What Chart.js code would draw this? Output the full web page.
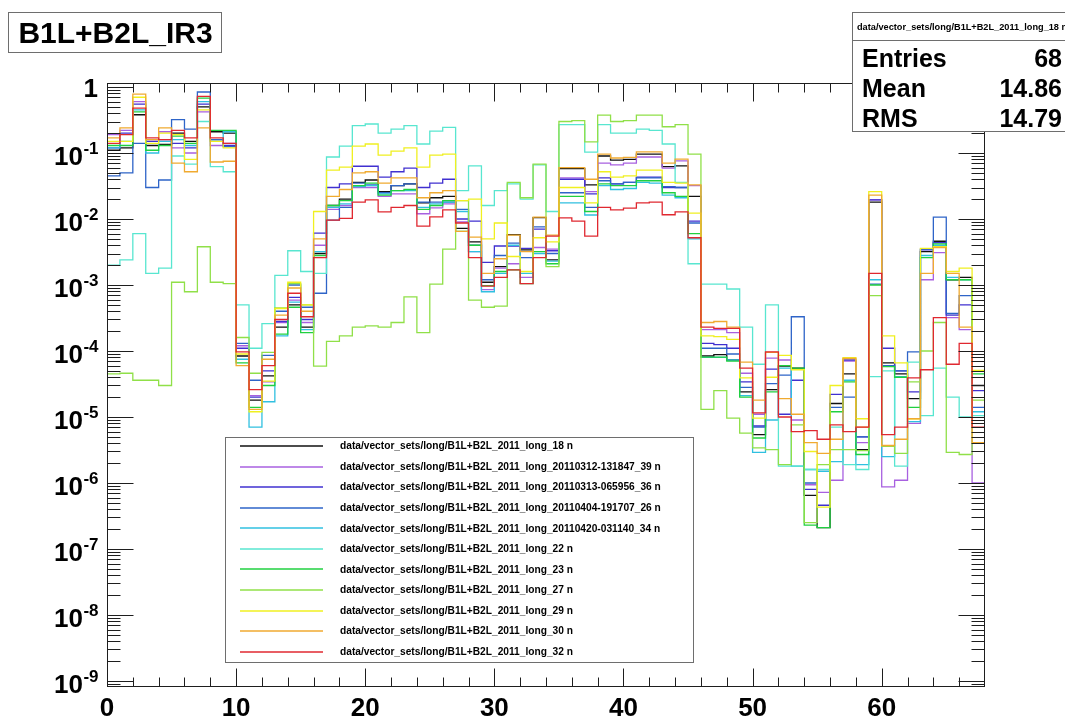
<!DOCTYPE html>
<html>
<head>
<meta charset="utf-8">
<script src="https://cdn.jsdelivr.net/npm/chart.js@4.4.1/dist/chart.umd.min.js"></script>
<style>
  html, body { margin: 0; padding: 0; background: #ffffff; }
  canvas { display: block; }
</style>
</head>
<body>
<canvas id="c" width="1065" height="716"></canvas>
<script>
// Per-bin contents (68 bins, bin k spans [k, k+1]) for each vector set.
const long18 = [0.11,0.12,0.38,0.13,0.135,0.2,0.15,0.5,0.21,0.2,8.4e-5,1.8e-5,4.2e-5,2.3e-4,5e-4,2.3e-4,3e-3,0.016,0.02,0.036,0.039,0.026,0.032,0.034,0.0175,0.021,0.022,0.0072,4.5e-3,1.1e-3,1.9e-3,5.8e-3,3.4e-3,0.0105,2.4e-3,0.058,0.058,0.033,0.09,0.078,0.08,0.096,0.096,0.062,0.064,0.022,8.4e-5,8.8e-5,7.3e-5,2.4e-5,5.4e-6,2.6e-5,5.9e-5,5.5e-5,6.5e-7,2.1e-7,1.6e-5,4.5e-5,3.2e-6,0.018,6.6e-5,4.5e-5,1.9e-5,3.2e-3,4.6e-3,1.2e-3,1.3e-3,3e-5];
const long39 = [0.19,0.22,0.6,0.16,0.21,0.12,0.1,0.42,0.13,0.14,1.2e-4,2.1e-5,3.4e-5,2.7e-4,5.9e-4,2.7e-4,4e-3,0.014,0.016,0.03,0.03,0.022,0.024,0.024,0.012,0.0147,0.017,0.009,3.2e-3,8.5e-4,1.8e-3,2.1e-3,1.3e-3,3.7e-3,3.5e-3,0.042,0.042,0.026,0.07,0.066,0.07,0.087,0.087,0.059,0.076,0.032,2.1e-4,2.1e-4,1.9e-4,4.6e-5,1.1e-5,7.8e-5,7.3e-5,9e-6,9.4e-7,7.2e-7,1.1e-6,7e-5,4.1e-6,0.0195,8.7e-7,1.1e-6,8e-6,1.2e-3,3.1e-3,3.2e-4,2.1e-4,1e-6];
const long36 = [0.12,0.2,0.55,0.15,0.16,0.14,0.12,0.55,0.16,0.13,1.1e-4,2e-5,5e-5,2.8e-4,6.5e-4,3e-4,6.1e-3,0.03,0.034,0.063,0.063,0.043,0.052,0.059,0.03,0.035,0.04,0.01,9.3e-3,2.2e-3,3.9e-3,3.9e-3,3.6e-3,7e-3,3.3e-3,0.04,0.04,0.024,0.042,0.034,0.036,0.043,0.043,0.03,0.03,9.3e-3,1.3e-4,1.25e-4,1.1e-4,3.4e-5,7.3e-6,5.3e-5,1.1e-5,3.6e-5,8e-7,4.6e-7,2.2e-5,7.3e-5,5e-6,0.0195,1.1e-4,5e-5,2.4e-5,3.4e-3,4.4e-3,3.5e-4,5e-4,2.5e-5];
const long26 = [0.045,0.05,0.14,0.03,0.039,0.32,0.23,0.84,0.16,0.125,1.3e-4,3.6e-5,8.6e-5,4e-4,1e-3,4.6e-4,7.5e-4,9.6e-3,0.015,0.035,0.033,0.025,0.032,0.034,0.018,0.018,0.018,0.014,4e-3,1.2e-3,2.8e-3,4.3e-3,2.6e-3,7.6e-3,3e-3,0.025,0.025,0.015,0.038,0.034,0.036,0.042,0.042,0.031,0.03,8.7e-3,1.1e-4,1.1e-4,9e-5,2.8e-5,7e-6,3.2e-5,4.3e-5,3.3e-4,1e-6,1.5e-6,1.4e-5,2e-5,5e-6,1.03e-3,6e-5,5e-5,9.7e-5,3.5e-3,0.0107,3.7e-4,6.9e-4,1.4e-5];
const long34 = [0.12,0.15,0.45,0.1,0.15,0.16,0.13,0.6,0.15,0.21,7.5e-5,7e-6,1.7e-5,1.7e-4,5.5e-4,2.1e-4,3.2e-3,0.015,0.017,0.031,0.032,0.024,0.027,0.027,0.015,0.017,0.018,0.013,3.2e-3,7.9e-4,1.5e-3,4e-3,1.5e-3,3e-3,2.3e-3,0.0175,0.0175,0.0115,0.032,0.028,0.029,0.036,0.035,0.023,0.021,5e-3,8e-5,8e-5,7.3e-5,2.1e-5,2.9e-6,9e-6,5.5e-5,1.8e-6,1.6e-6,1.5e-6,2.1e-6,3.6e-5,1.9e-6,1.2e-3,2.5e-6,4.1e-5,8.5e-6,2.8e-3,4e-3,1.3e-3,1.2e-3,1.2e-5];
const long22 = [0.002,0.0024,0.006,0.0015,0.0018,0.09,0.068,0.3,0.062,0.052,5e-4,1.1e-4,2.6e-4,1.4e-3,3.3e-3,1.6e-3,1.5e-3,0.087,0.127,0.26,0.275,0.2,0.23,0.26,0.137,0.215,0.245,0.027,0.064,0.016,0.027,0.034,0.02,0.066,0.013,0.27,0.27,0.103,0.27,0.2,0.2,0.23,0.22,0.137,0.036,2.1e-3,1.03e-3,1.03e-3,8.7e-4,2.3e-4,6.3e-5,5e-4,1.8e-6,1.8e-6,1.6e-6,1.6e-6,7e-6,1.9e-6,1.6e-6,4.1e-5,5e-5,1.8e-6,6.8e-5,1.05e-5,5.5e-5,2e-5,1e-5,1.05e-5];
const long23 = [0.13,0.13,0.42,0.11,0.13,0.18,0.14,0.68,0.22,0.22,6.6e-5,1.4e-5,3e-5,1.8e-4,4.6e-4,1.9e-4,2.8e-3,0.016,0.019,0.032,0.035,0.023,0.027,0.028,0.014,0.016,0.019,0.0065,4e-3,9.8e-4,1.6e-3,1.7e-3,1.05e-3,3.2e-3,2.1e-3,0.022,0.022,0.013,0.034,0.032,0.032,0.038,0.038,0.025,0.022,6e-3,8.1e-5,8.1e-5,7e-5,2e-5,4.8e-6,2.4e-5,6e-5,5.5e-5,2.3e-7,2.1e-7,1.2e-5,3.4e-5,2.7e-6,1e-3,5.8e-5,4e-5,1.4e-5,2.6e-3,4.2e-3,1.2e-3,1.2e-3,4.5e-5];
const long27 = [4.5e-5,4.6e-5,3.6e-5,3.6e-5,3e-5,1.1e-3,7.9e-4,3.8e-3,1.1e-3,1.05e-3,1.6e-4,4.6e-5,9.5e-5,4.5e-4,1.05e-3,5e-4,5.9e-5,1.4e-4,1.7e-4,2.3e-4,2.4e-4,2.3e-4,2.7e-4,6.6e-4,1.9e-4,1.03e-3,3.5e-3,0.019,5.9e-4,4.6e-4,4.8e-4,0.036,0.021,0.068,1.9e-3,0.3,0.31,0.147,0.376,0.3,0.31,0.376,0.376,0.25,0.27,0.096,1.3e-5,2.5e-5,9.6e-6,5.7e-6,3.4e-6,3.2e-6,1.9e-6,7.6e-6,2.5e-7,1.9e-6,3.2e-6,3.2e-6,3.1e-6,6.9e-4,3.6e-6,2.8e-6,3.4e-5,1e-4,2.7e-4,2.9e-6,2.7e-6,1.8e-5];
const long29 = [0.15,0.15,0.7,0.14,0.2,0.19,0.08,0.45,0.15,0.12,9e-5,1.2e-5,3.5e-5,4.4e-4,1.1e-3,5e-4,0.013,0.055,0.061,0.127,0.137,0.093,0.107,0.12,0.061,0.093,0.096,0.019,0.02,5e-3,8.7e-3,2.7e-3,1.6e-3,5.2e-3,4.5e-3,0.03,0.03,0.0175,0.052,0.043,0.045,0.055,0.055,0.036,0.035,0.0123,1.7e-4,1.65e-4,1.5e-4,3.9e-5,9.6e-6,4e-5,8.6e-5,5.2e-5,3e-6,4.3e-7,3e-5,7.9e-5,9.4e-6,0.026,1.7e-4,6.6e-5,9.4e-6,3.6e-3,3.8e-3,1.6e-3,1.8e-3,5.1e-5];
const long30 = [0.17,0.24,0.78,0.16,0.24,0.07,0.052,0.24,0.073,0.075,6e-5,1.3e-5,7.5e-5,3.5e-4,9e-4,4e-4,5e-3,0.022,0.028,0.05,0.052,0.035,0.042,0.042,0.021,0.025,0.027,0.0065,5.3e-3,1.5e-3,2.5e-3,5.7e-3,3.2e-3,0.0107,5.7e-3,0.06,0.06,0.04,0.096,0.084,0.086,0.104,0.104,0.07,0.081,0.033,2.7e-4,2.8e-4,2.3e-4,6.8e-5,1.8e-5,9.5e-5,1.9e-5,1.1e-5,4.1e-6,2.8e-6,4.6e-6,7.7e-5,7e-6,0.023,3.7e-6,4.6e-6,9.4e-6,1.5e-3,3.7e-3,1.5e-3,2.3e-4,4.1e-6];
const long32 = [0.14,0.19,0.48,0.17,0.16,0.22,0.17,0.72,0.17,0.14,9.7e-5,2.6e-5,6e-5,3e-4,7.5e-4,3.3e-4,2.6e-3,9.6e-3,0.0102,0.018,0.0195,0.0128,0.015,0.016,0.0078,0.0108,0.0137,0.0087,2.6e-3,9.6e-4,1.3e-3,1.7e-3,1.05e-3,2.6e-3,5.5e-3,0.0104,9.3e-3,5.5e-3,0.015,0.0137,0.0146,0.0175,0.018,0.0116,0.0128,5.2e-3,2.3e-4,2.2e-4,2.2e-4,5.5e-5,1.15e-5,9.7e-5,1e-5,6e-6,6.2e-6,4.6e-6,7.6e-6,6e-6,7e-6,1.5e-3,5.4e-6,7e-6,3.9e-5,5.2e-5,3.2e-4,6.3e-5,1.3e-4,7e-6];

const seriesValues = [long18, long39, long36, long26, long34, long22, long23, long27, long29, long30, long32];
const seriesNames = [
  'data/vector_sets/long/B1L+B2L_2011_long_18 n',
  'data/vector_sets/long/B1L+B2L_2011_long_20110312-131847_39 n',
  'data/vector_sets/long/B1L+B2L_2011_long_20110313-065956_36 n',
  'data/vector_sets/long/B1L+B2L_2011_long_20110404-191707_26 n',
  'data/vector_sets/long/B1L+B2L_2011_long_20110420-031140_34 n',
  'data/vector_sets/long/B1L+B2L_2011_long_22 n',
  'data/vector_sets/long/B1L+B2L_2011_long_23 n',
  'data/vector_sets/long/B1L+B2L_2011_long_27 n',
  'data/vector_sets/long/B1L+B2L_2011_long_29 n',
  'data/vector_sets/long/B1L+B2L_2011_long_30 n',
  'data/vector_sets/long/B1L+B2L_2011_long_32 n'
];
const seriesColors = ['#111111', '#a860e0', '#4030d0', '#2e64c8', '#30c0e0', '#58e6d0', '#20d040', '#90e048', '#f0f020', '#f0aa30', '#e02830'];

const xTickLabels = ['0', '10', '20', '30', '40', '50', '60'];
const xTickValues = [0, 10, 20, 30, 40, 50, 60];
const yDecades = [0, -1, -2, -3, -4, -5, -6, -7, -8, -9];

const titleText = 'B1L+B2L_IR3';
const statsHeader = 'data/vector_sets/long/B1L+B2L_2011_long_18 n';
const statsLabels = ['Entries', 'Mean', 'RMS'];
const statsValues = ['68', '14.86', '14.79'];

const xMin = 0, xMax = 68;
const yMin = 8.1e-10, yMax = 1.15;

const FONT = 'Arial, "Liberation Sans", Helvetica, sans-serif';
const AXIS = '#1e1e1e';
const BOX = '#6e6e6e';

// Histogram outline: one point per bin low edge plus a closing point at the last upper edge.
function histPoints(values) {
  const pts = values.map((v, k) => ({ x: k, y: v }));
  pts.push({ x: values.length, y: values[values.length - 1] });
  return pts;
}

const rootFrame = {
  id: 'rootFrame',
  afterDraw(chart) {
    const ctx = chart.ctx;
    const xs = chart.scales.x, ys = chart.scales.y;
    const { left, right, top, bottom } = chart.chartArea;
    const L = Math.round(left) + 0.5, R = Math.round(right) - 0.5;
    const T = Math.round(top) + 0.5, B = Math.round(bottom) - 0.5;
    ctx.save();
    ctx.strokeStyle = AXIS;
    ctx.lineWidth = 1;
    ctx.strokeRect(L, T, R - L, B - T);

    // x axis ticks, bottom and top
    ctx.beginPath();
    for (let v = xMin + 2; v < xMax; v += 2) {
      const px = Math.round(xs.getPixelForValue(v)) + 0.5;
      const len = v % 10 === 0 ? 18 : 9;
      ctx.moveTo(px, B); ctx.lineTo(px, B - len);
      ctx.moveTo(px, T); ctx.lineTo(px, T + len);
    }
    // y axis ticks, left and right (decades and 2..9 sub-ticks)
    for (let d = -10; d <= 0; d++) {
      for (let m = 1; m <= 9; m++) {
        const val = m * Math.pow(10, d);
        if (val < yMin || val > yMax) continue;
        const py = Math.round(ys.getPixelForValue(val)) + 0.5;
        const len = m === 1 ? 26 : 13;
        ctx.moveTo(L, py); ctx.lineTo(L + len, py);
        ctx.moveTo(R, py); ctx.lineTo(R - len, py);
      }
    }
    ctx.stroke();

    // x tick labels
    ctx.fillStyle = '#000';
    ctx.font = 'bold 26px ' + FONT;
    ctx.textAlign = 'center';
    ctx.textBaseline = 'alphabetic';
    xTickValues.forEach((v, i) => {
      ctx.fillText(xTickLabels[i], xs.getPixelForValue(v), 716);
    });

    // y tick labels: "1" and 10 with superscript exponent
    const labelRight = 98;
    yDecades.forEach(d => {
      const py = ys.getPixelForValue(Math.pow(10, d));
      ctx.textAlign = 'left';
      if (d === 0) {
        ctx.font = 'bold 26px ' + FONT;
        const w = ctx.measureText('1').width;
        ctx.fillText('1', labelRight - w, py + 10);
        return;
      }
      const exp = String(d);
      ctx.font = 'bold 17px ' + FONT;
      const we = ctx.measureText(exp).width;
      ctx.font = 'bold 26px ' + FONT;
      const wb = ctx.measureText('10').width;
      const x0 = labelRight - we - wb;
      ctx.fillText('10', x0, py + 12);
      ctx.font = 'bold 17px ' + FONT;
      ctx.fillText(exp, x0 + wb + 0.5, py + 1);
    });

    // title box
    ctx.fillStyle = '#fff';
    ctx.fillRect(8, 12, 214, 41);
    ctx.strokeStyle = BOX;
    ctx.strokeRect(8.5, 12.5, 213, 40);
    ctx.fillStyle = '#000';
    ctx.font = 'bold 30px ' + FONT;
    ctx.textAlign = 'center';
    ctx.fillText(titleText, 115.5, 43);

    // statistics box
    const sx = 852, sy = 12, sw = 220, sh = 119;
    ctx.fillStyle = '#fff';
    ctx.fillRect(sx, sy, sw, sh);
    ctx.strokeStyle = BOX;
    ctx.strokeRect(sx + 0.5, sy + 0.5, sw, sh);
    ctx.beginPath();
    ctx.moveTo(sx, 40.5); ctx.lineTo(sx + sw, 40.5);
    ctx.stroke();
    ctx.fillStyle = '#000';
    ctx.font = 'bold 9.2px ' + FONT;
    ctx.textAlign = 'left';
    ctx.textBaseline = 'middle';
    ctx.fillText(statsHeader, 857, 27);
    ctx.textBaseline = 'alphabetic';
    ctx.font = 'bold 25px ' + FONT;
    statsLabels.forEach((lab, i) => {
      const by = 67 + i * 30;
      ctx.textAlign = 'left';
      ctx.fillText(lab, 862, by);
      ctx.textAlign = 'right';
      ctx.fillText(statsValues[i], 1062, by);
    });

    // legend box
    const lx = 225, ly = 437, lw = 468, lh = 225;
    ctx.fillStyle = '#fff';
    ctx.fillRect(lx, ly, lw, lh);
    ctx.strokeStyle = BOX;
    ctx.strokeRect(lx + 0.5, ly + 0.5, lw, lh);
    ctx.font = 'bold 10.2px ' + FONT;
    ctx.textAlign = 'left';
    ctx.textBaseline = 'middle';
    chart.data.datasets.forEach((ds, i) => {
      const ry = 446 + i * 20.57;
      ctx.strokeStyle = ds.borderColor;
      ctx.lineWidth = 1.5;
      ctx.beginPath();
      ctx.moveTo(240, Math.round(ry)); ctx.lineTo(323, Math.round(ry));
      ctx.stroke();
      ctx.fillStyle = '#000';
      ctx.fillText(ds.label, 340, ry + 0.5);
    });
    ctx.restore();
  }
};

new Chart(document.getElementById('c'), {
  type: 'line',
  data: {
    datasets: seriesValues.map((vals, i) => ({
      label: seriesNames[i],
      data: histPoints(vals),
      borderColor: seriesColors[i],
      backgroundColor: seriesColors[i],
      borderWidth: 1.3,
      pointRadius: 0,
      fill: false,
      stepped: 'before',
      order: seriesValues.length - i
    }))
  },
  options: {
    responsive: false,
    animation: false,
    devicePixelRatio: 1,
    layout: { padding: { left: 107, right: 80, top: 83, bottom: 29 } },
    scales: {
      x: { type: 'linear', min: xMin, max: xMax, display: false },
      y: { type: 'logarithmic', min: yMin, max: yMax, display: false }
    },
    plugins: { legend: { display: false }, tooltip: { enabled: false } },
    elements: { line: { tension: 0 } }
  },
  plugins: [rootFrame]
});
</script>
</body>
</html>
